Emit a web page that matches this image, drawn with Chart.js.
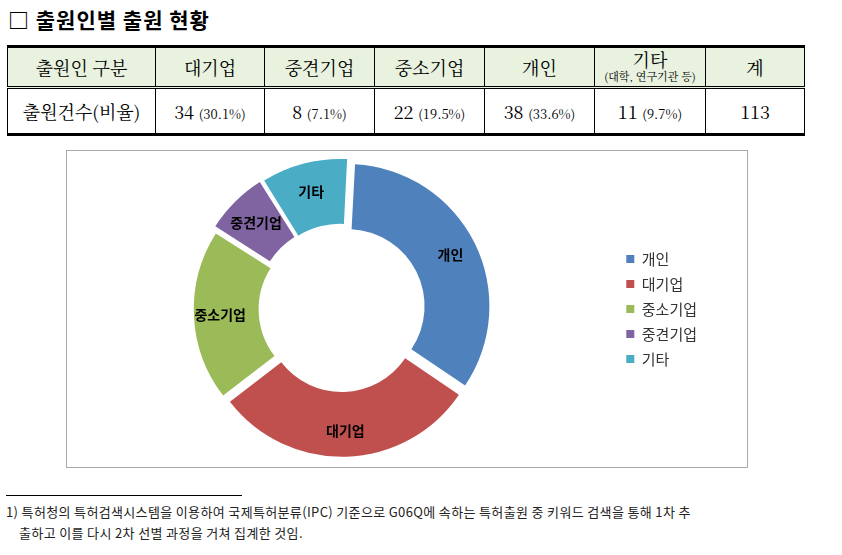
<!DOCTYPE html>
<html><head><meta charset="utf-8">
<script src="https://cdn.jsdelivr.net/npm/chart.js@4/dist/chart.umd.min.js"></script>
<style>
body{margin:0;background:#fff;font-family:"Noto Sans CJK KR","Noto Sans",sans-serif;width:842px;height:555px;position:relative;overflow:hidden}
h1{position:absolute;left:8px;top:4px;margin:0;font-size:21px;font-weight:bold;letter-spacing:1px}
table{position:absolute;left:7px;top:45px;width:798px;table-layout:fixed;border-collapse:collapse;border-top:3px solid #000;border-bottom:3px solid #000;font-family:"Noto Serif CJK KR","Noto Sans CJK KR",serif}
td{border-left:1px solid #000;border-right:1px solid #000;text-align:center;font-size:18px;height:38px;padding:0;white-space:nowrap}
tr.h td{background:#e8f2df;border-bottom:3px double #000}
tr.d td{height:44px}
small{font-size:13px}
tr.h small{font-size:11px}
#box{position:absolute;left:66px;top:150px;width:680px;height:316px;border:1px solid #aaa}
#foot{position:absolute;left:6px;top:495px;width:236px;border-top:1px solid #000}
#ft{position:absolute;left:6px;top:501px;font-size:13px;line-height:21px;color:#222;letter-spacing:0.35px;white-space:nowrap}
</style></head><body>
<h1>□ 출원인별 출원 현황</h1>
<table>
<tr class="h"><td style="width:147px">출원인 구분</td><td style="width:108px">대기업</td><td style="width:109px">중견기업</td><td style="width:109px">중소기업</td><td style="width:109px">개인</td><td style="width:110px;line-height:14px">기타<br><small>(대학, 연구기관 등)</small></td><td>계</td></tr>
<tr class="d"><td>출원건수(비율)</td><td>34 <small>(30.1%)</small></td><td>8 <small>(7.1%)</small></td><td>22 <small>(19.5%)</small></td><td>38 <small>(33.6%)</small></td><td>11 <small>(9.7%)</small></td><td>113</td></tr>
</table>
<div id="box"><canvas id="c"></canvas></div>
<div id="foot"></div>
<div id="ft">1) 특허청의 특허검색시스템을 이용하여 국제특허분류(IPC) 기준으로 G06Q에 속하는 특허출원 중 키워드 검색을 통해 1차 추<br>&nbsp;&nbsp;&nbsp;&nbsp;출하고 이를 다시 2차 선별 과정을 거쳐 집계한 것임.</div>
<script>
const categories = ["개인", "대기업", "중소기업", "중견기업", "기타"];
const counts = [38, 34, 22, 8, 11];
const colors = ["#4F81BD", "#C0504D", "#9BBB59", "#8064A2", "#4BACC6"];

const sliceLabels = {
  id: "sliceLabels",
  afterDatasetsDraw(chart) {
    const ctx = chart.ctx;
    ctx.save();
    ctx.font = "bold 14px 'Noto Sans CJK KR'";
    ctx.fillStyle = "#000";
    ctx.textAlign = "center";
    ctx.textBaseline = "middle";
    chart.getDatasetMeta(0).data.forEach((arc, i) => {
      const p = arc.tooltipPosition();
      ctx.fillText(categories[i], p.x, p.y);
    });
    ctx.restore();
  }
};

new Chart(document.getElementById("c"), {
  type: "doughnut",
  data: {
    labels: categories,
    datasets: [{ data: counts, backgroundColor: colors, borderWidth: 0, offset: 26 }]
  },
  options: {
    responsive: true,
    maintainAspectRatio: false,
    animation: false,
    cutout: "54%",
    rotation: 3,
    layout: { padding: { top: 4, bottom: 4, left: 0, right: 40 } },
    plugins: {
      tooltip: { enabled: false },
      legend: {
        position: "right",
        labels: { boxWidth: 8, boxHeight: 8, padding: 10, font: { size: 15, family: "'Noto Sans CJK KR'" }, color: "#333" }
      }
    }
  },
  plugins: [sliceLabels]
});
</script>
</body></html>
